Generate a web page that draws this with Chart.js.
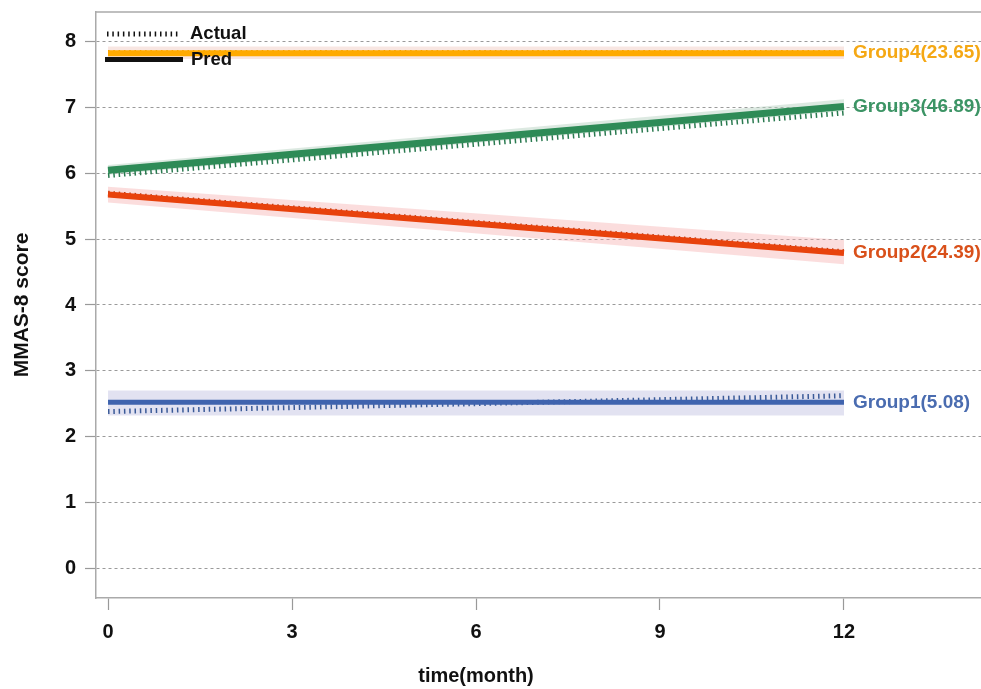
<!DOCTYPE html>
<html><head><meta charset="utf-8">
<script src="https://cdn.jsdelivr.net/npm/chart.js@4/dist/chart.umd.min.js"></script>
<style>html,body{margin:0;padding:0;background:#fff;overflow:hidden}</style>
</head><body>
<canvas id="c" width="981" height="689"></canvas>
<script>
// ---- data ----
const months = [0, 12];
const groupNames = ['Group1(5.08)', 'Group2(24.39)', 'Group3(46.89)', 'Group4(23.65)'];
const predG1 = [2.52, 2.52];
const predG2 = [5.68, 4.79];
const predG3 = [6.05, 7.02];
const predG4 = [7.83, 7.83];
const actualG1 = [2.38, 2.62];
const actualG2 = [5.70, 4.81];
const actualG3 = [5.97, 6.92];
const actualG4 = [7.84, 7.84];
const upperG1 = [2.70, 2.70];
const lowerG1 = [2.32, 2.32];
const upperG2 = [5.80, 4.99];
const lowerG2 = [5.56, 4.62];
const upperG3 = [6.13, 7.13];
const lowerG3 = [5.98, 6.95];
const upperG4 = [7.93, 7.93];
const lowerG4 = [7.74, 7.74];
const xTicks = [0, 3, 6, 9, 12];
const yTicks = [0, 1, 2, 3, 4, 5, 6, 7, 8];

// ---- styles ----
const predColors = ['#3F63AE', '#E8420C', '#2E8B57', '#FFAA00'];
const actualColors = ['#3A5A98', '#B83A12', '#2A7A50', '#E09000'];
const bandColors = ['rgba(190,190,225,0.45)', 'rgba(245,170,170,0.40)', 'rgba(185,212,196,0.50)', 'rgba(240,200,190,0.45)'];
const labelColors = ['#4A6CB0', '#D9501A', '#3C9465', '#F5A814'];
const predWidths = [5, 6, 7, 6];
const FONT = '"Liberation Sans", Arial, Helvetica, sans-serif';

const preds = [predG1, predG2, predG3, predG4];
const actuals = [actualG1, actualG2, actualG3, actualG4];
const uppers = [upperG1, upperG2, upperG3, upperG4];
const lowers = [lowerG1, lowerG2, lowerG3, lowerG4];
const pts = arr => arr.map((v, i) => ({x: months[i], y: v}));

const datasets = [];
for (let g = 0; g < 4; g++) {
  datasets.push({data: pts(uppers[g]), borderWidth: 0, borderColor: 'rgba(0,0,0,0)', fill: false, order: 3});
  datasets.push({data: pts(lowers[g]), borderWidth: 0, borderColor: 'rgba(0,0,0,0)', backgroundColor: bandColors[g], fill: '-1', order: 3});
  datasets.push({data: pts(actuals[g]), borderColor: actualColors[g], borderWidth: 5, borderDash: [1.5, 3.8], borderCapStyle: 'butt', fill: false, order: 2});
  datasets.push({data: pts(preds[g]), borderColor: predColors[g], borderWidth: predWidths[g], borderCapStyle: 'butt', fill: false, order: 1});
}

const decor = {
  id: 'decor',
  afterDatasetsDraw(chart) {
    const {ctx, chartArea: a, scales: {x, y}} = chart;
    ctx.save();
    // top frame line
    ctx.strokeStyle = '#aaaaaa'; ctx.lineWidth = 1.5;
    ctx.beginPath(); ctx.moveTo(a.left, a.top); ctx.lineTo(a.right, a.top); ctx.stroke();
    // group labels at line ends
    ctx.font = 'bold 19px ' + FONT;
    ctx.textBaseline = 'middle'; ctx.textAlign = 'left';
    const lastM = months[months.length - 1];
    preds.forEach((p, i) => {
      ctx.fillStyle = labelColors[i];
      ctx.fillText(groupNames[i], x.getPixelForValue(lastM) + 9, y.getPixelForValue(p[p.length - 1]));
    });
    // legend
    ctx.strokeStyle = '#111'; ctx.lineCap = 'butt';
    ctx.lineWidth = 5; ctx.setLineDash([1.5, 3.8]);
    ctx.beginPath(); ctx.moveTo(107, 34); ctx.lineTo(180, 34); ctx.stroke();
    ctx.setLineDash([]); ctx.lineWidth = 5;
    ctx.beginPath(); ctx.moveTo(105, 59.5); ctx.lineTo(183, 59.5); ctx.stroke();
    ctx.fillStyle = '#111';
    ctx.font = 'bold 18.5px ' + FONT;
    ctx.fillText('Actual', 190, 34);
    ctx.fillText('Pred', 191, 60);
    // x axis title, centred on the tick range
    ctx.font = 'bold 20px ' + FONT;
    ctx.textAlign = 'center';
    const cx = (x.getPixelForValue(xTicks[0]) + x.getPixelForValue(xTicks[xTicks.length - 1])) / 2;
    ctx.fillText('time(month)', cx, 676);
    ctx.restore();
  }
};

new Chart(document.getElementById('c'), {
  type: 'line',
  data: {datasets},
  plugins: [decor],
  options: {
    responsive: false,
    animation: false,
    events: [],
    layout: {padding: {top: 12, left: 0, right: 0, bottom: 0}},
    elements: {point: {radius: 0}, line: {tension: 0}},
    plugins: {legend: {display: false}, tooltip: {enabled: false}},
    scales: {
      x: {
        type: 'linear', min: -0.196, max: 14.234,
        afterBuildTicks: s => { s.ticks = xTicks.map(v => ({value: v})); },
        afterFit: s => { s.height = 91; s.paddingLeft = 0; s.paddingRight = 0; },
        grid: {drawOnChartArea: false, tickLength: 12, tickColor: '#999', tickWidth: 1.2},
        border: {color: '#aaaaaa', width: 1.5},
        ticks: {color: '#111', font: {family: FONT, size: 20, weight: 'bold'}, padding: 10, maxRotation: 0, autoSkip: false},
        title: {display: false}
      },
      y: {
        type: 'linear', min: -0.456, max: 8.456,
        afterBuildTicks: s => { s.ticks = yTicks.map(v => ({value: v})); },
        afterFit: s => { s.width = 96; s.paddingTop = 0; s.paddingBottom = 0; },
        grid: {color: '#9a9a9a', lineWidth: 1, tickLength: 11, tickColor: '#999', tickWidth: 1.2, tickBorderDash: []},
        border: {color: '#aaaaaa', width: 1.5, dash: [3, 3]},
        ticks: {color: '#111', font: {family: FONT, size: 20, weight: 'bold'}, padding: 9, autoSkip: false},
        title: {display: true, text: 'MMAS-8 score', color: '#111', font: {family: FONT, size: 21, weight: 'bold'}, padding: {top: 10, bottom: 0}}
      }
    }
  }
});
</script>
</body></html>
